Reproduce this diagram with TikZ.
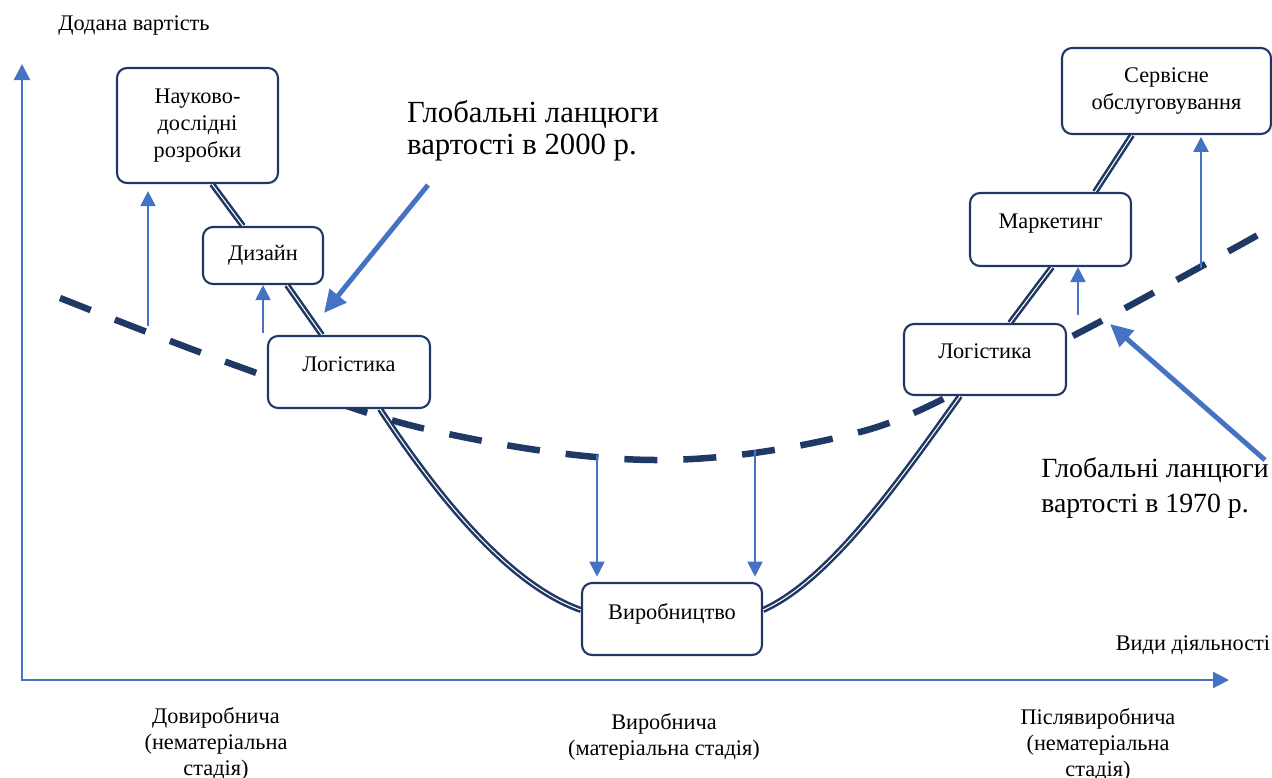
\documentclass[tikz,border=0pt]{standalone}
\usepackage{fontspec}
\setmainfont{Liberation Serif}
\usepackage{xcolor}
\usetikzlibrary{arrows.meta, positioning, calc}
\definecolor{navy}{HTML}{1F3864}
\definecolor{axisblue}{HTML}{4472C4}

\begin{document}
\begin{tikzpicture}[
        x=0.02cm, y=-0.02cm,
        font=\fontsize{12.7}{15}\selectfont,
        stage/.style={rectangle, draw=navy, line width=1.2pt, fill=white, rounded corners=0.2cm, align=center, inner sep=2pt},
        upper/.style={text depth=9pt},
        smile/.style={draw=navy, line width=1.45pt, double=white, double distance=0.6pt},
        oldchain/.style={draw=navy, line width=3.7pt, dash pattern=on 0.66cm off 0.52cm},
        axis/.style={axisblue, line width=1.3pt, -{Triangle[length=0.32cm, width=0.32cm]}},
        shiftarrow/.style={axisblue, line width=1.1pt, -{Triangle[length=0.3cm, width=0.3cm]}},
        pointer/.style={axisblue, line width=2.8pt, -{Triangle[length=0.45cm, width=0.42cm]}},
        biglabel/.style={font=\fontsize{17.5}{18.5}\selectfont, align=left}
    ]
        \useasboundingbox (0,0) rectangle (1272,778);

        % Axes
        \coordinate (origin) at (22,680);
        \coordinate (ytop) at (22,64);
        \coordinate (xend) at (1229,680);
        \draw [axis] (origin) -- (ytop);
        \draw [axis] ([xshift=-0.65pt]origin) -- (xend);
        \node (ylabel) at (134,25) {Додана вартість};
        \node (xlabel) at (1193,645) {Види діяльності};

        % Stage labels
        \node (pre) [align=center] at (216,744) {Довиробнича\\(нематеріальна\\стадія)};
        \node (mid) [align=center] at (664,737) {Виробнича\\(матеріальна стадія)};
        \node (post) [align=center] at (1098,745) {Післявиробнича\\(нематеріальна\\стадія)};

        % Value chain 1970 (dashed)
        \draw [oldchain] plot[smooth, tension=0.6] coordinates {(60,298) (240,367) (430,430) (655,460) (860,432) (1000,370) (1090,327) (1258,235)};

        % Stages
        \node (rnd) [stage, minimum width=3.22cm, minimum height=2.3cm, font=\fontsize{12.7}{15.6}\selectfont] at (197.5,125.5) {Науково-\\дослідні\\розробки};
        \node (design) [stage, minimum width=2.4cm, minimum height=1.14cm] at (263,255.5) {Дизайн};
        \node (logleft) [stage, upper, minimum width=3.24cm, minimum height=1.44cm] at (349,372) {Логістика};
        \node (prod) [stage, upper, minimum width=3.6cm, minimum height=1.44cm] at (672,619) {Виробництво};
        \node (logright) [stage, upper, minimum width=3.24cm, minimum height=1.42cm] at (985,359.5) {Логістика};
        \node (market) [stage, upper, minimum width=3.22cm, minimum height=1.46cm] at (1050.5,229.5) {Маркетинг};
        \node (service) [stage, minimum width=4.18cm, minimum height=1.72cm, font=\fontsize{12.7}{15}\selectfont] at (1166.5,91) {Сервісне\\обслуговування};

        % Value chain 2000 (smile)
        \draw [smile] ([xshift=0.29cm]rnd.south) -- ([xshift=-0.4cm]design.north);
        \draw [smile] ([xshift=0.48cm]design.south) -- ([xshift=-0.54cm]logleft.north);
        \draw [smile] ([xshift=0.62cm]logleft.south) .. controls (440,500) and (510,585) .. ([yshift=0.18cm]prod.west);
        \draw [smile] ([yshift=0.18cm]prod.east) .. controls (830,580) and (900,480) .. ([xshift=-0.5cm]logright.south);
        \draw [smile] ([xshift=0.5cm]logright.north) -- ([xshift=0.03cm]market.south);
        \draw [smile] ([xshift=0.89cm]market.north) -- ([xshift=-0.69cm]service.south);

        % Shifts between the two chains
        \coordinate (s1) at (148,326);
        \coordinate (s2) at (263,333);
        \coordinate (s3) at (597,455);
        \coordinate (s4) at (755,450);
        \coordinate (s5) at (1078,315);
        \coordinate (s6) at (1201,268);
        \draw [shiftarrow, shorten >=4pt] (s1) -- (s1 |- rnd.south);
        \draw [shiftarrow] (s2) -- (s2 |- design.south);
        \draw [shiftarrow, shorten >=3pt] (s3) -- (s3 |- prod.north);
        \draw [shiftarrow, shorten >=3pt] (s4) -- (s4 |- prod.north);
        \draw [shiftarrow] (s5) -- (s5 |- market.south);
        \draw [shiftarrow, shorten >=1pt] (s6) -- (s6 |- service.south);

        % Chain labels
        \node (new) [biglabel] at (533,131) {Глобальні ланцюги\\ вартості в 2000 р.};
        \node (old) [biglabel, font=\fontsize{15.8}{19.5}\selectfont] at (1155,488) {Глобальні ланцюги\\ вартості в 1970 р.};
        \coordinate (newtail) at (428,185);
        \coordinate (newtip) at (324,313);
        \coordinate (oldtail) at (1265,460);
        \coordinate (oldtip) at (1110,324);
        \draw [pointer] (newtail) -- (newtip);
        \draw [pointer] (oldtail) -- (oldtip);

    \end{tikzpicture}
\end{document}
